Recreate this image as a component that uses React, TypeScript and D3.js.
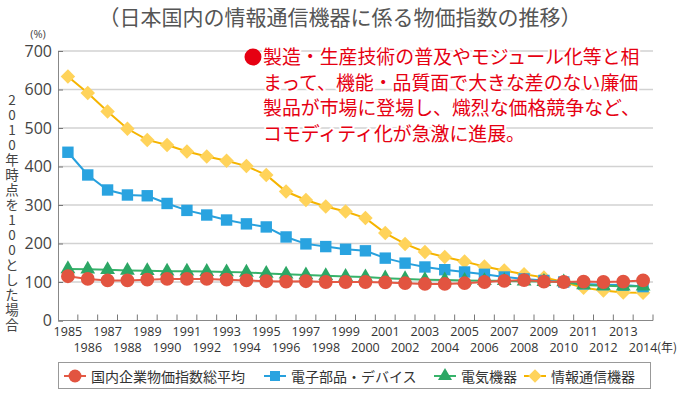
import { useEffect, useRef } from 'react'
import * as d3 from 'd3'

const YEARS = d3.range(1985, 2015).map(String)

const SERIES_NAMES = ['国内企業物価指数総平均', '電子部品・デバイス', '電気機器', '情報通信機器']

const INFO_COMM = [634, 591, 543, 498, 469, 456, 439, 426, 415, 401, 378, 335, 313, 296, 283, 266, 227, 199, 178, 165, 153, 140, 130, 120, 112, 100, 85, 78, 73, 72]
const ELECTRONIC_PARTS = [437, 378, 339, 326, 324, 304, 286, 274, 261, 251, 243, 217, 199, 192, 185, 181, 162, 149, 139, 132, 126, 120, 113, 108, 104, 100, 95, 93, 92, 88]
const ELECTRIC_MACHINES = [134, 133, 132, 130, 129, 128, 128, 127, 126, 125, 122, 120, 118, 116, 114, 113, 110, 108, 106, 105, 104, 103, 103, 102, 101, 100, 92, 90, 89, 89]
const CGPI_AVERAGE = [115, 108, 104, 104, 106, 108, 108, 108, 106, 104, 102, 101, 102, 100, 100, 100, 99, 97, 95, 95, 97, 100, 103, 105, 101, 100, 101, 100, 101, 104]

const Y_TICKS = [0, 100, 200, 300, 400, 500, 600, 700]

const TITLE = '（日本国内の情報通信機器に係る物価指数の推移）'
const Y_TITLE = '2010年時点を100とした場合'
const NOTE_LINES = [
  '製造・生産技術の普及やモジュール化等と相',
  'まって、機能・品質面で大きな差のない廉価',
  '製品が市場に登場し、熾烈な価格競争など、',
  'コモディティ化が急激に進展。'
]

const JP = '"Noto Sans CJK JP", "Noto Sans", sans-serif'
const NUM = '"Open Sans", "Noto Sans", sans-serif'

type Shape = 'circle' | 'square' | 'triangle' | 'diamond'

export default function App() {
  const ref = useRef<SVGSVGElement | null>(null)

  useEffect(() => {
    if (!ref.current) return
    const width = 683
    const height = 393
    const svg = d3.select(ref.current)
    svg.selectAll('*').remove()

    const left = 58
    const right = 653
    const top = 51
    const bottom = 320.5

    const x = d3.scaleBand<string>().domain(YEARS).range([left, right]).padding(0)
    const y = d3.scaleLinear().domain([0, 700]).range([bottom, top])
    const cx = (d: string) => (x(d) as number) + x.bandwidth() / 2

    svg.append('rect').attr('width', width).attr('height', height).attr('fill', '#fff')

    // Title
    svg.append('text')
      .attr('x', 340)
      .attr('y', 25)
      .attr('text-anchor', 'middle')
      .attr('font-family', JP)
      .attr('font-size', '21px')
      .attr('fill', '#555')
      .text(TITLE)

    // gridlines
    svg.append('g')
      .selectAll('line')
      .data(Y_TICKS.filter((t) => t > 0))
      .join('line')
      .attr('x1', left)
      .attr('x2', right)
      .attr('y1', (d) => y(d))
      .attr('y2', (d) => y(d))
      .attr('stroke', '#d2d2d2')
      .attr('stroke-width', 1.4)

    // y axis
    const yAxis = svg.append('g')
      .attr('transform', `translate(${left},0)`)
      .call(d3.axisLeft(y).tickValues(Y_TICKS).tickSize(-5).tickPadding(6))
    yAxis.select('.domain').attr('stroke', '#888')
    yAxis.selectAll('.tick line').attr('stroke', '#777')
    yAxis.selectAll('.tick text')
      .attr('font-family', NUM)
      .attr('font-size', '16px')
      .attr('fill', '#444')

    svg.append('text')
      .attr('x', 38)
      .attr('y', 38)
      .attr('text-anchor', 'middle')
      .attr('font-family', NUM)
      .attr('font-size', '11px')
      .attr('fill', '#444')
      .text('(%)')

    // vertical y title
    svg.append('text')
      .attr('x', 12)
      .attr('y', 93)
      .attr('font-family', JP)
      .attr('font-size', '13.5px')
      .attr('fill', '#444')
      .style('writing-mode', 'vertical-rl')
      .style('text-orientation', 'upright')
      .style('letter-spacing', '1.5px')
      .text(Y_TITLE)

    // x axis
    svg.append('line')
      .attr('x1', left).attr('x2', right)
      .attr('y1', bottom).attr('y2', bottom)
      .attr('stroke', '#888')
    svg.append('g')
      .selectAll('line')
      .data(YEARS.slice(1).concat(['end']))
      .join('line')
      .attr('x1', (d) => (d === 'end' ? right : (x(d) as number)))
      .attr('x2', (d) => (d === 'end' ? right : (x(d) as number)))
      .attr('y1', bottom)
      .attr('y2', bottom - 6)
      .attr('stroke', '#777')
    svg.append('g')
      .selectAll('text')
      .data(YEARS)
      .join('text')
      .attr('x', (d) => cx(d))
      .attr('y', (_, i) => (i % 2 === 0 ? 336 : 352))
      .attr('text-anchor', 'middle')
      .attr('font-family', NUM)
      .attr('font-size', '12.5px')
      .attr('fill', '#333')
      .text((d) => d)
    svg.append('text')
      .attr('x', 657)
      .attr('y', 352)
      .attr('font-family', JP)
      .attr('font-size', '12px')
      .attr('fill', '#333')
      .text('(年)')

    // annotation
    const note = svg.append('g')
    note.append('circle').attr('cx', 253).attr('cy', 57).attr('r', 8.5).attr('fill', '#e60012')
    note.selectAll('text')
      .data(NOTE_LINES)
      .join('text')
      .attr('x', 263)
      .attr('y', (_, i) => 64 + i * 25.5)
      .attr('font-family', JP)
      .attr('font-size', '18.9px')
      .attr('fill', '#e60012')
      .attr('stroke', '#fff')
      .attr('stroke-width', 4)
      .attr('stroke-linejoin', 'round')
      .attr('paint-order', 'stroke')
      .text((d) => d)

    const series: { name: string; values: number[]; line: string; fill: string; shape: Shape }[] = [
      { name: SERIES_NAMES[3], values: INFO_COMM, line: '#f5b400', fill: '#ffd35a', shape: 'diamond' },
      { name: SERIES_NAMES[1], values: ELECTRONIC_PARTS, line: '#27a0dd', fill: '#29a3e0', shape: 'square' },
      { name: SERIES_NAMES[2], values: ELECTRIC_MACHINES, line: '#37b36a', fill: '#2ca765', shape: 'triangle' },
      { name: SERIES_NAMES[0], values: CGPI_AVERAGE, line: '#e45a45', fill: '#e25440', shape: 'circle' }
    ]

    const symbolPath = (shape: Shape, big = true) => {
      if (shape === 'circle') return d3.symbol(d3.symbolCircle, big ? 150 : 130)()
      if (shape === 'square') return d3.symbol(d3.symbolSquare, big ? 130 : 100)()
      if (shape === 'triangle') return d3.symbol(d3.symbolTriangle, big ? 95 : 85)()
      return d3.symbol(d3.symbolSquare, big ? 105 : 90)()
    }
    const markerTransform = (shape: Shape, px: number, py: number) =>
      shape === 'diamond' ? `translate(${px},${py}) rotate(45)` : `translate(${px},${py})`

    const line = d3.line<number>()
      .x((_, i) => cx(YEARS[i]))
      .y((d) => y(d))

    series.forEach((s) => {
      const g = svg.append('g')
      g.append('path')
        .attr('d', line(s.values) as string)
        .attr('fill', 'none')
        .attr('stroke', s.line)
        .attr('stroke-width', 2)
      g.selectAll('path.m')
        .data(s.values)
        .join('path')
        .attr('class', 'm')
        .attr('d', symbolPath(s.shape))
        .attr('transform', (d, i) => markerTransform(s.shape, cx(YEARS[i]), y(d)))
        .attr('fill', s.fill)
    })

    // legend
    const legend = svg.append('g')
    legend.append('rect')
      .attr('x', 58.5).attr('y', 362.5)
      .attr('width', 592).attr('height', 26)
      .attr('fill', '#fff')
      .attr('stroke', '#999')
    const legendItems = [
      { s: series[3], x0: 64 },
      { s: series[1], x0: 264 },
      { s: series[2], x0: 434 },
      { s: series[0], x0: 524 }
    ]
    legendItems.forEach(({ s, x0 }) => {
      const ly = 376
      legend.append('line')
        .attr('x1', x0).attr('x2', x0 + 22)
        .attr('y1', ly).attr('y2', ly)
        .attr('stroke', s.line).attr('stroke-width', 2)
      legend.append('path')
        .attr('d', symbolPath(s.shape, false))
        .attr('transform', markerTransform(s.shape, x0 + 11, ly))
        .attr('fill', s.fill)
      legend.append('text')
        .attr('x', x0 + 27)
        .attr('y', ly)
        .attr('dominant-baseline', 'central')
        .attr('font-family', JP)
        .attr('font-size', '14px')
        .attr('fill', '#333')
        .text(s.name)
    })
  }, [])

  return (
    <svg
      ref={ref}
      width={683}
      height={393}
      style={{ position: 'absolute', left: 0, top: 0, display: 'block' }}
    />
  )
}
